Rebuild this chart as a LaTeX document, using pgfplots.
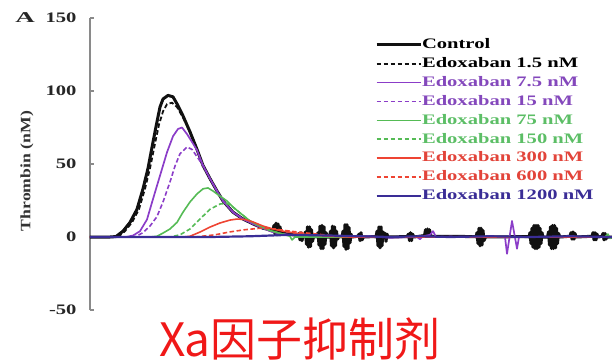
\documentclass[border=0pt]{standalone}
\usepackage{fontspec}
\setmainfont{Liberation Serif}[FakeStretch=1.42]
\newfontfamily\labelfont{Liberation Serif}
\newfontfamily\panelfont{Liberation Serif}[FakeStretch=1.8]
\newfontfamily\cjk{Noto Sans CJK SC}
\usepackage{graphicx}
\usepackage{pgfplots}
\pgfplotsset{compat=1.18}

\definecolor{ctrl}{HTML}{111111}
\definecolor{purp}{HTML}{8B3DC8}
\definecolor{purptxt}{HTML}{8448BC}
\definecolor{grn}{HTML}{55BB55}
\definecolor{grntxt}{HTML}{5CBE66}
\definecolor{rd}{HTML}{EE4433}
\definecolor{rdtxt}{HTML}{E2443A}
\definecolor{ind}{HTML}{3A2D96}
\definecolor{axgray}{HTML}{8A8A8A}
\definecolor{titlered}{HTML}{F01818}

\begin{document}
\begin{tikzpicture}
\begin{axis}[
  scale only axis,
  width=522pt, height=292pt,
  xmin=0, xmax=52.2,
  ymin=-50, ymax=150,
  axis x line=none,
  axis y line*=left,
  y axis line style={draw=axgray, line width=1.4pt},
  ytick={-50,0,50,100,150},
  tick align=inside,
  major tick length=4pt,
  ytick style={draw=axgray, line width=1.2pt},
  /pgf/number format/assume math mode=true,
  yticklabel style={font=\bfseries\fontsize{14.5}{14.5}\selectfont, text=black!85, xshift=-10pt},
  legend image code/.code={\draw[#1] (0pt,0pt) -- (44pt,0pt);},
  legend style={at={(axis description cs:0.546,0.9315)}, anchor=north west,
    draw=none, fill=none, inner sep=0pt, outer sep=0pt, row sep=5.4pt,
    font=\bfseries\fontsize{14.5}{14.5}\selectfont,
    nodes={text height=10.5pt, text depth=3pt, inner sep=0pt},
    /tikz/every even column/.append style={column sep=2pt}},
  legend cell align=left,
  every axis plot/.append style={line join=round},
]
% Control
\addplot[ctrl, line width=3pt] coordinates {
 (0,0) (2.0,0) (2.6,0.3) (3.3,4) (4.0,10) (4.7,19) (5.3,33) (5.8,47) (6.3,65) (6.7,79)
 (7.0,89) (7.3,94.5) (7.8,97) (8.3,96) (8.8,90) (9.3,83) (10.0,72) (10.7,60) (11.3,49)
 (12.0,40) (12.7,31.5) (13.3,24.7) (14.3,17) (15.3,12.3) (16.3,9) (17.3,6) (18.0,5)
 (18.3,4.5) (18.4,8) (18.5,2) (18.6,9.5) (18.7,1.5) (18.8,9) (18.9,2.5) (19.0,7) (19.1,3) (19.3,2.5)
 (20.3,1.5) (20.8,1)
 (20.9,2.5) (21.0,-2) (21.1,3) (21.2,-2.5) (21.3,1)
 (21.45,0) (21.55,3.5) (21.65,-5) (21.75,7) (21.85,-7) (21.95,7) (22.05,-6.5) (22.15,5) (22.25,-3) (22.35,0)
 (22.65,0.3)
 (22.7,0) (22.8,3) (22.9,-5.5) (23.0,7.5) (23.1,-8) (23.2,8) (23.3,-8) (23.4,7) (23.5,-5) (23.6,3) (23.75,0)
 (23.95,0) (24.05,4) (24.15,-6) (24.25,7.5) (24.35,-7.5) (24.45,7) (24.55,-6) (24.65,4) (24.75,-1.5) (24.85,0)
 (25.15,0.3)
 (25.2,0) (25.3,4) (25.4,-6.5) (25.5,8.5) (25.6,-8.5) (25.7,8.5) (25.8,-8) (25.9,6.5) (26.0,-4) (26.1,2) (26.2,0)
 (26.8,0.5)
 (26.9,2) (27.0,-2.5) (27.1,3) (27.2,-2) (27.35,0)
 (28.4,0.3)
 (28.6,0) (28.7,4) (28.8,-6) (28.9,7) (29.0,-7.5) (29.1,7) (29.2,-6) (29.3,3.5) (29.4,0)
 (29.5,2.5) (29.6,-3) (29.7,2) (29.8,0)
 (31.7,0.3)
 (31.85,2) (31.95,-2.5) (32.05,3) (32.15,-2.5) (32.25,2) (32.4,0)
 (33.45,1) (33.55,5) (33.65,1.5) (33.75,5.5) (33.85,1.5) (33.95,5) (34.1,0.5)
 (38.5,0.3)
 (38.6,0) (38.7,3) (38.8,-4.5) (38.9,6) (39.0,-6) (39.1,6) (39.2,-5.5) (39.3,4.5) (39.4,-2.5) (39.55,0)
 (43.8,0.3)
 (43.9,0) (44.0,3) (44.1,-4.5) (44.2,6) (44.3,-7) (44.4,8) (44.5,-8) (44.6,8) (44.7,-8) (44.8,8) (44.9,-7) (45.0,6) (45.1,-4.5) (45.2,3) (45.3,0)
 (45.75,0) (45.85,3.5) (45.95,-5.5) (46.05,7) (46.15,-8) (46.25,8) (46.35,-8) (46.45,8) (46.55,-7.5) (46.65,6) (46.75,-4.5) (46.85,2.5) (47.0,0)
 (48.0,0.5) (48.1,3) (48.2,-1.5) (48.3,3.5) (48.4,-1.5) (48.5,2.5) (48.6,0)
 (50.2,0.5) (50.3,3) (50.4,-2) (50.5,3) (50.6,-2) (50.7,2) (50.8,0)
 (51.2,0.5) (51.3,2.5) (51.4,-2) (51.5,2.5) (51.6,-1.5) (51.7,1) (51.8,0) (52.2,0)
};
\addlegendentry{Control}
% 1.5 nM
\addplot[ctrl, line width=1.8pt, dash pattern=on 4.5pt off 2.5pt] coordinates {
 (0,0) (2.8,0) (3.5,4) (4.2,10) (4.9,19) (5.5,33) (6.0,47) (6.5,64) (6.9,77) (7.3,86)
 (7.7,91) (8.2,92) (8.7,89) (9.2,83) (10.0,72.5) (10.7,60) (11.3,49) (12.0,40)
 (12.7,31.5) (13.3,24.7) (14.3,17) (15.3,12.3) (16.3,9) (17.3,6) (18.3,3.4) (19.0,2.5)
 (20.0,1.5) (22.0,0.5) (24.0,0) (52.2,0)
};
\addlegendentry{Edoxaban 1.5 nM}
% 7.5 nM
\addplot[purp, line width=1.7pt] coordinates {
 (0,0) (3.6,0) (4.3,1) (5.0,4) (5.7,12) (6.3,26) (7.0,42) (7.7,58) (8.3,69) (8.8,74)
 (9.2,75) (9.7,70.5) (10.3,64) (10.7,59.5) (11.3,49) (12.0,40) (12.7,31.5) (13.3,24.7)
 (14.3,17) (15.3,12.3) (16.3,9) (17.3,6) (18.3,3.4) (19.3,2) (20.5,1.2) (22.0,0.5)
 (25.0,0) (28.0,0.5) (30.0,-0.5) (32.7,0) (33.0,-1.5) (33.3,0.5) (34.0,1.5) (34.3,4)
 (34.6,0) (36.0,0.3) (39.0,0) (41.5,0) (41.7,-11.5) (42.2,11) (42.7,-8) (42.9,0)
 (45.0,0) (52.2,0)
};
\addlegendentry{\textcolor{purptxt}{Edoxaban 7.5 nM}}
% 15 nM
\addplot[purp, line width=1.6pt, dash pattern=on 4.5pt off 2.5pt] coordinates {
 (0,0) (4.5,0) (5.3,3) (6.0,7.5) (6.7,14) (7.3,24) (8.0,37.7) (8.5,48.6) (9.0,57)
 (9.7,61.6) (10.2,60) (10.7,55) (11.3,49) (12.0,40) (12.7,31.5) (13.3,24.7) (14.3,17)
 (15.3,12.3) (16.3,9) (17.3,6) (18.3,3.4) (19.3,2) (20.5,1) (23.0,0.3) (27.0,0) (52.2,0)
};
\addlegendentry{\textcolor{purptxt}{Edoxaban 15 nM}}
% 75 nM
\addplot[grn, line width=1.6pt] coordinates {
 (0,0) (6.0,0) (6.7,0.5) (7.3,2.7) (8.0,5.5) (8.7,10) (9.3,17) (10.0,24) (10.7,29.5)
 (11.3,33) (11.8,33.6) (12.3,31.5) (13.0,28) (13.7,24.7) (14.3,20.5) (15.0,16.5)
 (16.0,11) (17.0,7.5) (18.0,4.5) (19.0,2.5) (20.0,0.5) (20.2,-2) (20.5,0) (30.0,0)
 (40.0,0) (51.5,0) (51.8,2) (52.0,-1) (52.2,0)
};
\addlegendentry{\textcolor{grntxt}{Edoxaban 75 nM}}
% 150 nM
\addplot[grn, line width=1.6pt, dash pattern=on 4.5pt off 2.5pt] coordinates {
 (0,0) (8.0,0) (9.0,1.5) (10.0,5.5) (11.0,12.3) (12.0,19) (13.0,22.6) (13.7,23)
 (14.3,20.5) (15.0,16.5) (16.0,11) (17.0,7.5) (18.0,4.5) (19.0,2.5) (20.0,1) (22.0,0)
 (52.2,0)
};
\addlegendentry{\textcolor{grntxt}{Edoxaban 150 nM}}
% 300 nM
\addplot[rd, line width=1.6pt] coordinates {
 (0,0) (9.3,0) (10.0,0.5) (11.0,3.4) (12.0,6.8) (13.0,9.6) (14.0,11.6) (14.7,12.3)
 (15.5,12) (16.3,10.3) (17.3,7.5) (18.3,5.5) (19.3,4) (20.7,2.5) (22.0,1.5) (24.0,0.5)
 (26.0,0) (52.2,0)
};
\addlegendentry{\textcolor{rdtxt}{Edoxaban 300 nM}}
% 600 nM
\addplot[rd, line width=1.6pt, dash pattern=on 4.5pt off 2.5pt] coordinates {
 (0,0) (10.5,0) (12.5,1.5) (14.0,3.5) (15.5,5) (17.0,6) (18.5,5.5) (20.0,4) (22.0,2.5)
 (24.0,1) (26.0,0) (52.2,0)
};
\addlegendentry{\textcolor{rdtxt}{Edoxaban 600 nM}}
% 1200 nM
\addplot[ind, line width=2.2pt] coordinates {
 (0,0) (12,0) (16,0.5) (20,1.5) (24,1) (27,0.5) (30,0) (33,0.5) (36,0) (40,0.5)
 (44,0) (48,0.5) (52.2,0)
};
\addlegendentry{\textcolor{ind}{Edoxaban 1200 nM}}
\end{axis}
% y axis title, sized to its box
\node[rotate=90, inner sep=0pt, text=black!80] at (-63pt,139pt)
  {\resizebox*{120pt}{13pt}{\labelfont\bfseries Thrombin (nM)}};
% panel letter
\node[font=\panelfont\bfseries\fontsize{15}{15}\selectfont, text=black!85] at (-65pt,292pt) {A};
% caption in red below the chart
\node[anchor=base, font=\cjk\fontsize{46}{46}\selectfont, text=titlered] at (210pt,-46pt) {Xa因子抑制剂};
\useasboundingbox (-90pt,-29pt) rectangle (522pt,310pt);
\end{tikzpicture}
\end{document}
